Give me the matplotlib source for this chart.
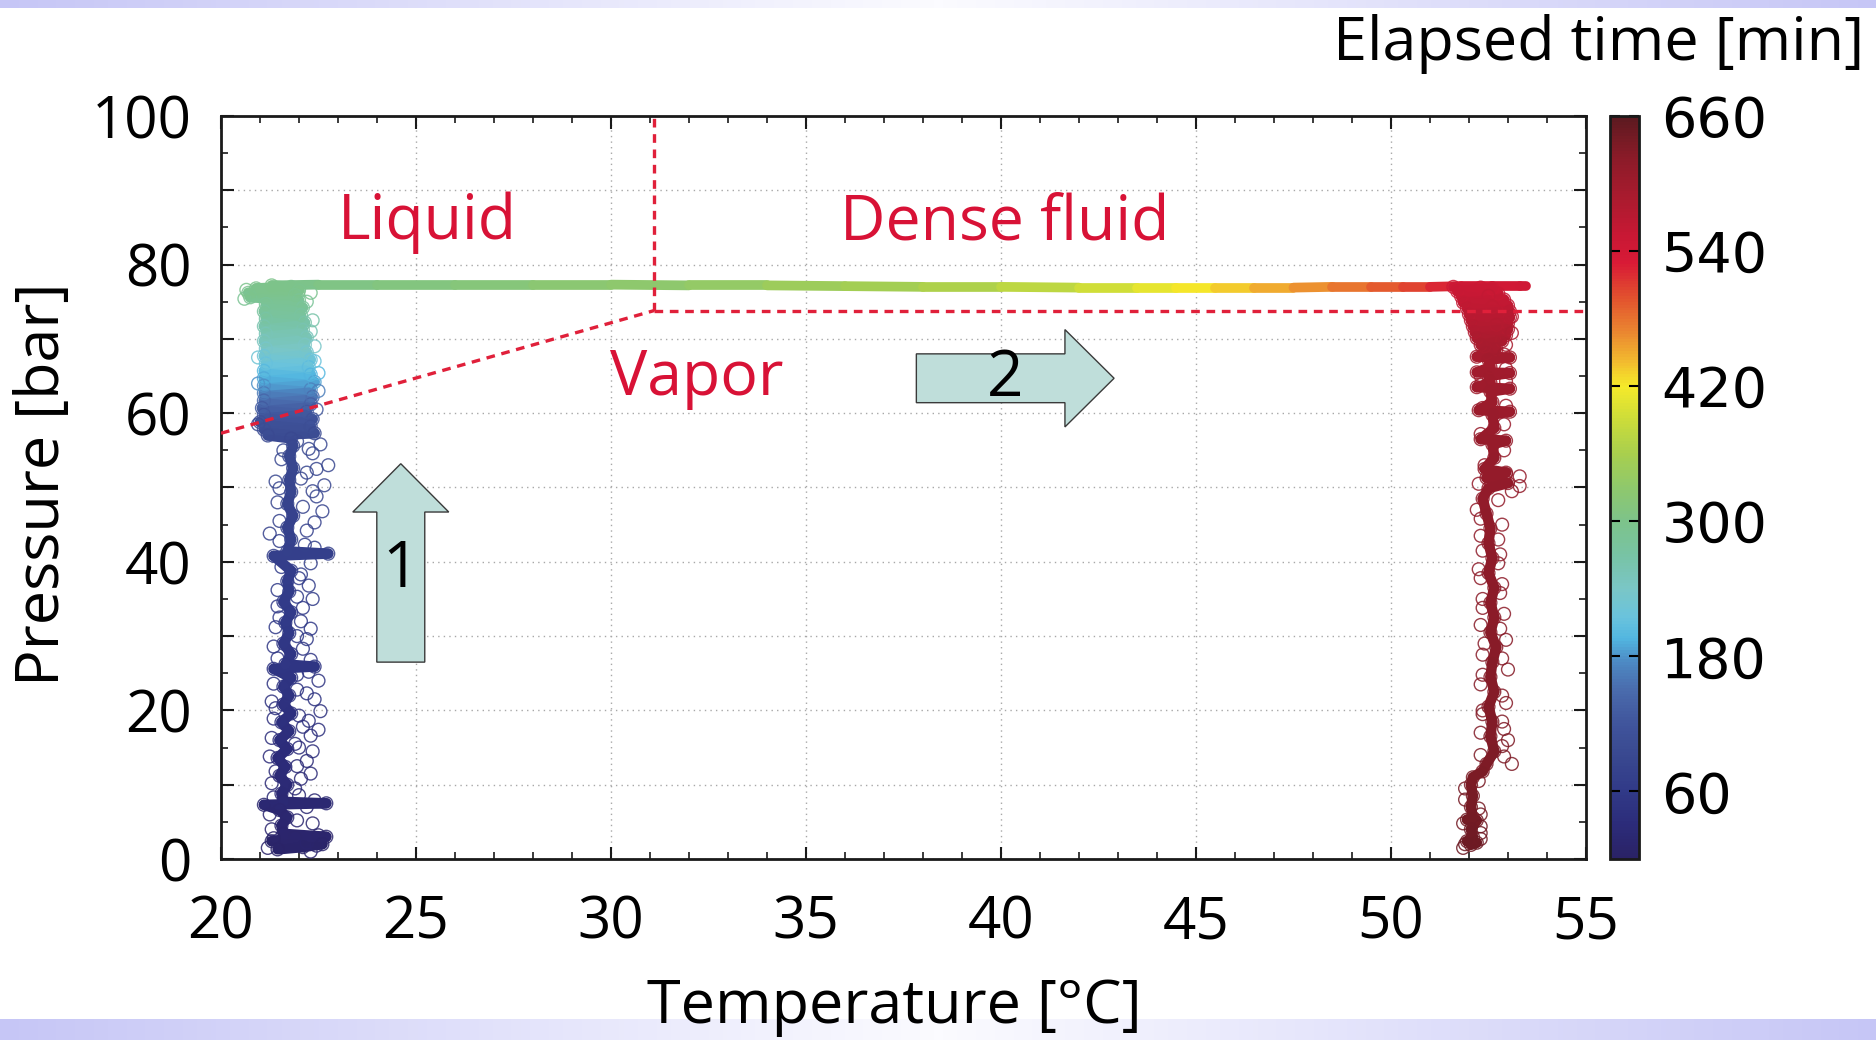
import numpy as np
import matplotlib
matplotlib.use("Agg")
import matplotlib.pyplot as plt
import matplotlib.cm as cm
from matplotlib.collections import LineCollection
from matplotlib.colors import LinearSegmentedColormap, Normalize
from matplotlib.patches import FancyArrow
from matplotlib.ticker import MultipleLocator, FuncFormatter

plt.rcParams["font.family"] = ["Open Sans", "DejaVu Sans"]

# ---- compression at room temperature (time [min], temperature [C], pressure [bar])
comp_time = [5, 6, 7, 8, 9, 10, 11, 13, 15, 17, 18, 19, 20, 22, 24, 26, 28, 30, 32, 34,
             36, 38, 40, 42, 44, 46, 48, 49, 50, 51, 53, 55, 57, 59, 61, 63, 65, 67, 69, 70,
             71, 72, 74, 76, 78, 80, 82, 84, 86, 88, 90, 92,
             95, 97, 101, 104, 108, 112, 118, 122, 128, 135, 142, 152, 160, 168, 177, 186,
             190, 195, 200, 206, 212, 218, 224, 230, 235, 240, 245, 250, 254, 258, 262, 266,
             270, 274, 278, 281, 284, 287, 290, 292, 294, 296, 298, 299, 300]
comp_temp = [21.45, 22.1, 22.6, 21.3, 21.9, 22.7, 21.6, 21.55, 21.7, 21.5, 21.1, 22.7, 21.6,
             21.55, 21.7, 21.5, 21.65, 21.45, 21.7, 21.5, 21.75, 21.55, 21.8, 21.6, 21.75,
             21.6, 21.8, 21.35, 22.4, 21.65, 21.8, 21.6, 21.75, 21.65, 21.8, 21.6, 21.75,
             21.7, 21.8, 21.35, 22.75, 21.7, 21.8, 21.7, 21.85, 21.7, 21.8, 21.75, 21.85,
             21.75, 21.85, 21.8,
             21.2, 22.4, 21.1, 22.3, 21.0, 22.35, 21.1, 22.2, 21.05, 22.3, 21.1, 22.35, 21.1,
             22.3, 21.1, 22.4, 21.1, 22.3, 21.1, 22.25, 21.15, 22.3, 21.1, 22.2, 21.15, 22.15,
             21.1, 22.2, 21.15, 22.1, 21.1, 22.15, 21.15, 22.05, 21.1, 22.1, 21.15, 22.0,
             20.75, 21.9, 20.7, 22.0, 20.9, 21.8, 21.3]
comp_pres = [1.3, 1.6, 2.0, 2.4, 2.9, 3.0, 3.4, 4.5, 5.6, 6.6, 7.3, 7.5, 7.7, 8.8, 10.0, 11.2,
             12.4, 13.6, 14.8, 16.0, 17.2, 18.4, 19.6, 20.8, 22.0, 23.2, 24.4, 25.6, 25.9,
             26.2, 27.6, 29.0, 30.4, 31.8, 33.2, 34.6, 36.0, 37.4, 38.8, 40.8, 41.1, 41.4,
             43.0, 44.6, 46.2, 47.8, 49.4, 51.0, 52.6, 54.2, 55.6, 56.6,
             57.0, 57.3, 57.8, 58.2, 58.8, 59.2, 59.8, 60.2, 60.7, 61.2, 61.7, 62.2, 62.7,
             63.2, 63.7, 64.2, 64.7, 65.2, 65.7, 66.2, 66.7, 67.2, 67.7, 68.2, 68.7, 69.2,
             69.7, 70.2, 70.7, 71.2, 71.7, 72.2, 72.7, 73.2, 73.7, 74.2, 74.7, 75.2, 75.6,
             75.9, 76.2, 76.5, 76.8, 77.0, 77.2]

# scattered readings around the compression trace
comp_pts_time = [8, 9, 12, 14, 16, 19, 20, 21, 23, 25, 27, 29, 31, 33, 35, 37, 39, 41, 43, 45,
                 47, 48, 52, 54, 56, 58, 60, 62, 64, 66, 68, 72, 73, 75, 77, 79, 81, 83, 85,
                 87, 88, 89, 90, 91, 92, 93, 94,
                 6, 7, 11, 15, 17, 21, 24, 26, 28, 30, 32, 34, 36, 38, 40, 42, 44, 46, 50,
                 53, 55, 57, 59, 61, 63, 65, 67, 69, 71, 74, 76, 78, 80, 82, 84, 86, 88, 89,
                 91, 93,
                 100, 126, 165, 180, 197, 215, 222, 238, 256, 268, 286, 291, 295, 297]
comp_pts_temp = [22.3, 22.5, 22.2, 21.3, 21.95, 22.4, 22.2, 21.35, 21.9, 22.05, 21.4, 22.2,
                 22.35, 21.9, 22.3, 22.5, 22.25, 22.0, 21.4, 22.4, 21.95, 22.5, 22.25, 21.45,
                 22.1, 21.95, 22.3, 21.5, 22.1, 21.95, 22.25, 22.05, 22.3, 22.15, 21.25, 22.4,
                 22.6, 21.45, 22.45, 22.65, 21.4, 22.2, 22.75, 21.55, 22.35, 22.55, 21.95,
                 21.2, 21.35, 22.45, 22.35, 21.25, 22.0, 21.3, 22.3, 21.95, 21.25, 22.0, 21.3,
                 22.1, 21.35, 22.55, 21.3, 22.2, 21.35, 21.95, 22.3, 21.35, 22.2, 21.4, 22.05,
                 21.45, 22.35, 21.45, 22.0, 21.55, 22.4, 21.5, 22.2, 21.5, 22.1, 22.35, 21.5,
                 22.05, 22.45, 21.6, 22.25,
                 20.95, 22.45, 22.5, 20.95, 22.5, 22.4, 20.95, 22.4, 22.3, 22.35, 22.2, 20.6,
                 22.3, 20.65]
comp_pts_pres = [1.0, 3.2, 2.2, 4.0, 5.2, 7.9, 7.0, 8.3, 9.5, 10.8, 11.8, 13.2, 14.5, 15.5,
                 16.6, 17.4, 18.6, 19.3, 20.3, 21.5, 22.8, 24.0, 25.2, 27.0, 28.3, 30.0, 31.0,
                 32.5, 33.8, 35.3, 36.8, 38.3, 39.8, 42.3, 43.8, 45.3, 46.8, 48.0, 48.8, 50.3,
                 50.8, 52.0, 53.0, 53.8, 54.6, 55.8, 56.2,
                 1.5, 2.8, 1.8, 4.8, 6.0, 8.6, 10.2, 11.5, 12.5, 13.8, 15.0, 16.3, 17.8, 18.9,
                 19.9, 21.2, 22.3, 23.6, 24.8, 26.8, 28.6, 29.6, 31.2, 32.0, 34.0, 35.0, 36.2,
                 37.8, 39.3, 41.9, 42.8, 44.2, 45.5, 47.4, 49.5, 49.9, 51.2, 52.5, 55.0, 55.2,
                 58.5, 60.5, 63.0, 64.0, 65.4, 67.0, 67.5, 69.0, 71.0, 72.5, 75.0, 75.4, 76.2,
                 76.6]

# ---- isobaric heating
heat_time = [300, 303, 308, 314, 320, 326, 333, 341, 350, 360, 372, 385, 400, 415, 428, 442,
             456, 470, 485, 500, 515, 528, 537, 542, 545]
heat_temp = [21.3, 22.5, 24.0, 26.0, 28.0, 30.0, 32.0, 34.0, 36.0, 38.0, 40.0, 42.0, 43.5,
             44.5, 45.5, 46.5, 47.5, 48.5, 49.5, 50.3, 51.0, 51.8, 52.6, 53.3, 53.45]
heat_pres = [77.2, 77.3, 77.3, 77.3, 77.3, 77.3, 77.2, 77.2, 77.1, 77.0, 77.0, 76.9, 76.9,
             76.9, 76.9, 76.9, 76.9, 77.0, 77.0, 77.0, 77.0, 77.1, 77.1, 77.1, 77.1]

# ---- depressurisation at high temperature
vent_time = [547, 549, 551, 553, 555, 557, 559, 561, 563, 565, 567, 569, 571, 573, 575, 577,
             579, 581, 583, 585, 587, 589, 591, 592, 593, 594, 595, 596, 597, 598, 599, 600,
             601, 602, 603, 604, 605, 606, 607, 608, 609, 610, 611, 612, 612.5, 613, 613.5,
             614, 615, 616, 617, 618, 619, 620, 621, 622, 623, 624, 625, 626, 627, 628, 629,
             630, 631, 632, 633, 634, 635, 636, 637, 638, 639, 640, 641, 642, 643, 644, 645,
             646]
vent_temp = [51.6, 52.6, 51.7, 52.75, 51.8, 52.9, 51.85, 53.0, 51.95, 53.05, 52.0, 53.05,
             52.05, 53.0, 52.1, 53.0, 52.15, 52.95, 52.2, 52.85, 52.3, 52.7, 52.45, 52.2,
             53.05, 52.5, 52.55, 52.2, 53.05, 52.5, 52.55, 52.2, 53.05, 52.55, 52.6, 52.25,
             53.05, 52.6, 52.65, 52.3, 52.95, 52.6, 52.65, 52.4, 52.95, 52.45, 53.0, 52.5,
             52.35, 52.45, 52.55, 52.5, 52.6, 52.5, 52.65, 52.55, 52.65, 52.55, 52.7, 52.6,
             52.55, 52.65, 52.5, 52.6, 52.55, 52.65, 52.45, 52.35, 52.1, 52.05, 52.1, 52.05,
             52.1, 51.95, 52.2, 52.05, 52.1, 51.95, 52.2, 52.05]
vent_pres = [77.0, 76.8, 76.4, 76.1, 75.7, 75.3, 74.9, 74.5, 74.1, 73.7, 73.3, 72.9, 72.5,
             72.1, 71.7, 71.3, 70.9, 70.5, 70.1, 69.7, 69.2, 68.6, 68.1, 67.6, 67.5, 67.2,
             66.2, 65.5, 65.4, 65.0, 64.1, 63.5, 63.3, 62.9, 61.5, 60.4, 60.2, 59.8, 58.0,
             56.5, 56.3, 55.8, 54.0, 52.5, 52.0, 51.3, 50.6, 49.9, 48.5, 46.5, 44.5, 42.5,
             40.5, 38.5, 36.5, 34.5, 32.5, 30.5, 28.5, 26.5, 24.5, 22.5, 20.5, 18.5, 16.5,
             14.5, 12.8, 11.8, 11.0, 10.0, 8.5, 7.0, 5.6, 5.3, 5.2, 4.0, 3.0, 2.4, 2.2, 1.9]

vent_pts_time = [552, 560, 570, 584, 590, 593, 597, 601, 605, 609, 612, 613, 614, 616, 617,
                 618, 619, 620, 621, 622, 623, 624, 625, 626, 627, 628, 629, 630, 631, 632,
                 633, 634, 638, 640, 643, 645,
                 563, 575, 586, 595, 599, 603, 607, 610, 612, 613, 614, 615, 617, 618, 619,
                 620, 621, 622, 623, 624, 625, 626, 627, 628, 629, 630, 631, 632, 633, 636,
                 637, 639, 641, 642, 644, 646]
vent_pts_temp = [52.3, 52.5, 53.1, 53.1, 52.95, 52.9, 52.3, 52.3, 52.35, 52.3, 53.3, 52.25,
                 53.1, 52.2, 52.85, 52.3, 52.8, 52.25, 52.85, 52.35, 52.9, 52.3, 52.95, 52.35,
                 53.0, 52.3, 52.95, 52.35, 52.9, 53.0, 52.9, 53.1, 51.9, 52.3, 52.3, 51.85,
                 52.6, 52.7, 52.4, 52.95, 52.95, 52.95, 52.9, 52.9, 52.4, 52.95, 53.3, 52.75,
                 52.3, 52.75, 52.35, 52.75, 52.3, 52.8, 52.35, 52.8, 52.4, 52.85, 52.35,
                 52.85, 52.35, 52.85, 52.3, 52.85, 52.3, 52.25, 51.9, 52.25, 51.85, 52.3,
                 52.3, 51.9]
vent_pts_pres = [76.9, 75.8, 73.0, 70.8, 69.2, 67.9, 65.0, 63.8, 60.7, 57.2, 51.5, 50.5, 49.5,
                 47.0, 45.0, 43.5, 41.0, 39.0, 37.0, 35.0, 33.0, 31.5, 29.5, 27.5, 25.5, 23.5,
                 21.0, 19.5, 17.5, 16.0, 13.8, 12.8, 8.0, 6.0, 3.5, 1.5,
                 74.3, 71.9, 69.0, 66.0, 64.3, 61.0, 58.5, 55.0, 53.0, 51.8, 50.2, 48.3, 45.8,
                 43.0, 41.5, 39.8, 37.8, 35.8, 33.8, 31.0, 29.0, 27.0, 24.8, 22.0, 20.0, 18.5,
                 17.0, 15.2, 14.0, 10.5, 9.5, 6.8, 4.8, 4.4, 2.7, 2.0]

# CO2 phase boundaries: saturation line up to the critical point
sat_temp = [20.0, 31.1]
sat_pres = [57.3, 73.8]
crit_temp, crit_pres = 31.1, 73.8

cbar_ticks = [60, 180, 300, 420, 540, 660]

# colour scale for elapsed time
stops = [(0, "#2a2266"), (30, "#2c2c7a"), (60, "#313a88"), (90, "#394890"), (120, "#40559c"),
         (150, "#4a6cad"), (175, "#4d8ac4"), (195, "#52b6e0"), (215, "#6ac3dc"),
         (240, "#7ac6c6"), (270, "#78c3a4"), (300, "#7dc38a"), (330, "#8fc86c"),
         (360, "#a8cf4e"), (390, "#cbdc3a"), (420, "#f5ea2a"), (445, "#f2b52f"),
         (470, "#ea8430"), (500, "#e2502e"), (530, "#d81a36"), (555, "#c81834"),
         (590, "#a81b2e"), (625, "#8a1b28"), (660, "#5c1a20")]
cmap = LinearSegmentedColormap.from_list("elapsed", [(v / 660, c) for v, c in stops])
norm = Normalize(0, 660)

fig = plt.figure(figsize=(18.76, 10.40), dpi=100)

# lavender strips at top and bottom of the slide
band_cmap = LinearSegmentedColormap.from_list("band", ["#fbfbff", "#c6c6f6"])
grad = np.abs(np.linspace(-1, 1, 400))[None, :]
for y0, h in [(1 - 8 / 1040, 8 / 1040), (0, 21 / 1040)]:
    bax = fig.add_axes([0, y0, 1, h])
    bax.imshow(grad, cmap=band_cmap, aspect="auto", extent=[0, 1, 0, 1])
    bax.axis("off")

ax = fig.add_axes([0.1178, 0.1740, 0.7276, 0.7145])
cax = fig.add_axes([0.8582, 0.1740, 0.0155, 0.7145])


def draw_trace(t, x, y, lw):
    pts = np.column_stack([x, y])
    segs = np.stack([pts[:-1], pts[1:]], axis=1)
    tt = np.asarray(t, dtype=float)
    lc = LineCollection(segs, cmap=cmap, norm=norm, linewidths=lw,
                        capstyle="round", joinstyle="round", zorder=2)
    lc.set_array((tt[:-1] + tt[1:]) / 2)
    ax.add_collection(lc)


def draw_points(t, x, y):
    ax.scatter(x, y, s=85, facecolors="none", edgecolors=cmap(norm(np.asarray(t))),
               linewidths=1.0, alpha=0.85, zorder=3)


draw_trace(comp_time, comp_temp, comp_pres, 7.5)
draw_trace(heat_time, heat_temp, heat_pres, 7)
draw_trace(vent_time, vent_temp, vent_pres, 7.5)
draw_points(comp_time, comp_temp, comp_pres)
draw_points(comp_pts_time, comp_pts_temp, comp_pts_pres)
draw_points(vent_time, vent_temp, vent_pres)
draw_points(vent_pts_time, vent_pts_temp, vent_pts_pres)

red = "#d81236"
dash = dict(color="#e0203a", lw=2.4, linestyle=(0, (2.6, 2.0)), zorder=4)
ax.plot(sat_temp, sat_pres, **dash)
ax.plot([crit_temp, crit_temp], [crit_pres, 100], **dash)
ax.plot([crit_temp, 55], [crit_pres, crit_pres], **dash)

ax.text(25.3, 85.6, "Liquid", color=red, fontsize=45, ha="center", va="center", zorder=6)
ax.text(40.1, 85.6, "Dense fluid", color=red, fontsize=45, ha="center", va="center", zorder=6)
ax.text(32.2, 64.6, "Vapor", color=red, fontsize=45, ha="center", va="center", zorder=6)

arrow_style = dict(length_includes_head=True, facecolor="#bfdeda", edgecolor="#3a3a3a",
                   linewidth=1.0, zorder=5)
ax.add_patch(FancyArrow(24.61, 26.5, 0, 26.7, width=1.23, head_width=2.46,
                        head_length=6.5, **arrow_style))
ax.add_patch(FancyArrow(37.83, 64.7, 5.07, 0, width=6.57, head_width=13.1,
                        head_length=1.26, **arrow_style))
ax.text(24.6, 38.9, "1", fontsize=46, ha="center", va="center", zorder=6)
ax.text(40.1, 64.6, "2", fontsize=46, ha="center", va="center", zorder=6)

ax.set_xlim(20, 55)
ax.set_ylim(0, 100)
ax.xaxis.set_major_locator(MultipleLocator(5))
ax.xaxis.set_minor_locator(MultipleLocator(1))
ax.yaxis.set_major_locator(MultipleLocator(10))
ax.yaxis.set_minor_locator(MultipleLocator(5))
ax.yaxis.set_major_formatter(FuncFormatter(lambda v, _: f"{v:.0f}" if v % 20 == 0 else ""))
ax.grid(True, which="major", color="#a8a8a8", linestyle=(0, (1, 3)), linewidth=1.0, zorder=0)
ax.set_axisbelow(True)
ax.tick_params(which="both", direction="in", top=True, right=True, color="#1a1a1a")
ax.tick_params(which="major", length=9, width=1.5)
ax.tick_params(which="minor", length=5, width=1.2)
ax.tick_params(axis="x", which="major", labelsize=42, pad=25)
ax.tick_params(axis="y", which="major", labelsize=42, pad=21)
for s in ax.spines.values():
    s.set_linewidth(2)
    s.set_color("#1a1a1a")

cb = fig.colorbar(cm.ScalarMappable(norm=norm, cmap=cmap), cax=cax, ticks=cbar_ticks)
cb.outline.set_linewidth(2)
cb.outline.set_edgecolor("#1a1a1a")
cax.tick_params(direction="in", length=7, width=1.5, left=True, right=True,
                labelsize=40, pad=16)
for lab in cax.get_yticklabels():
    lab.set_family("DejaVu Sans")

fig.text(894 / 1876, 1 - 1023 / 1040, "Temperature [°C]", fontsize=44, ha="center",
         va="baseline", zorder=10)
fig.text(43 / 1876, 1 - 484 / 1040, "Pressure [bar]", fontsize=44, rotation=90,
         ha="center", va="center")
fig.text(1864 / 1876, 1 - 60 / 1040, "Elapsed time [min]", fontsize=44, ha="right",
         va="baseline")

fig.savefig("out.png", dpi=100)
